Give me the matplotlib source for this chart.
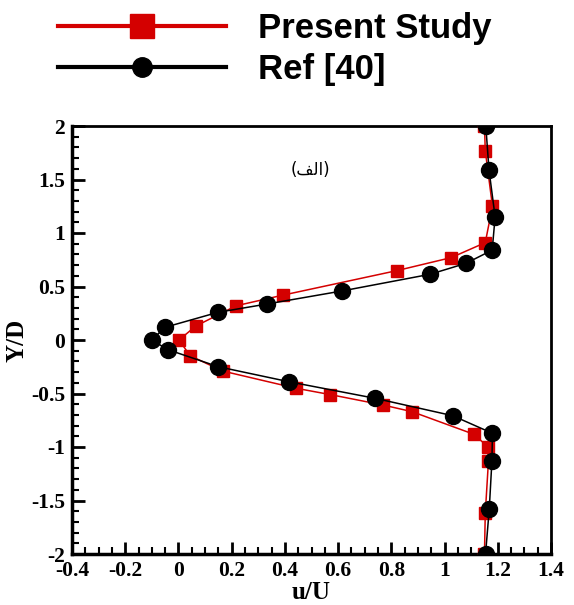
import matplotlib
matplotlib.use("Agg")
import matplotlib.pyplot as plt
from matplotlib.lines import Line2D
from matplotlib.ticker import MultipleLocator

# Present Study (red squares)
present_u = [1.15, 1.153, 1.18, 1.153, 1.025, 0.82, 0.394, 0.217, 0.065, 0.002,
             0.044, 0.166, 0.44, 0.57, 0.768, 0.878, 1.109, 1.163, 1.165, 1.153, 1.15]
present_y = [2.0, 1.77, 1.25, 0.91, 0.77, 0.648, 0.42, 0.32, 0.13, 0.0,
             -0.147, -0.29, -0.45, -0.51, -0.607, -0.67, -0.88, -0.997, -1.13, -1.62, -2.0]

# Ref [40] (black circles)
ref_u = [1.155, 1.167, 1.19, 1.179, 1.08, 0.945, 0.614, 0.332, 0.149, -0.05, -0.10,
         -0.04, 0.15, 0.415, 0.739, 1.03, 1.18, 1.178, 1.168, 1.154]
ref_y = [2.0, 1.59, 1.15, 0.84, 0.716, 0.614, 0.458, 0.336, 0.259, 0.119, 0.0,
         -0.09, -0.25, -0.39, -0.545, -0.707, -0.872, -1.13, -1.58, -2.0]

series_labels = ["Present Study", "Ref [40]"]
x_ticks = [-0.4, -0.2, 0, 0.2, 0.4, 0.6, 0.8, 1, 1.2, 1.4]
y_ticks = [-2, -1.5, -1, -0.5, 0, 0.5, 1, 1.5, 2]
panel_label = "(\uFED2\uFEDF\uFE8D)"  # (الف) in visual order

fig = plt.figure(figsize=(5.74, 6.05), dpi=100)
ax = fig.add_axes([72/574, 51/605, 479/574, 428/605])

red = "#d40000"
ax.plot(present_u, present_y, color=red, lw=1.1, marker="s", ms=8.5,
        mfc=red, mec=red, zorder=3)
ax.plot(ref_u, ref_y, color="black", lw=1.1, marker="o", ms=11.5,
        mfc="black", mec="black", zorder=4)

ax.set_xlim(-0.4, 1.4)
ax.set_ylim(-2, 2)
ax.xaxis.set_minor_locator(MultipleLocator(0.05))
ax.yaxis.set_minor_locator(MultipleLocator(0.1))

def fmt(v):
    s = f"{v:g}"
    return "0" if s == "-0" else s

ax.set_xticks(x_ticks)
ax.set_xticklabels([fmt(v) for v in x_ticks])
ax.set_yticks(y_ticks)
ax.set_yticklabels([fmt(v) for v in y_ticks])

ax.tick_params(which="both", direction="in", top=False, right=False)
ax.tick_params(which="major", length=9, width=2)
ax.tick_params(which="minor", length=5, width=1.5)
ax.tick_params(axis="x", pad=5)
ax.tick_params(axis="y", pad=5)
for lab in ax.get_xticklabels() + ax.get_yticklabels():
    lab.set_fontfamily("Liberation Serif")
    lab.set_fontweight("bold")
    lab.set_fontsize(15.5)

for side in ["left", "bottom"]:
    ax.spines[side].set_linewidth(2.5)
for side in ["top", "right"]:
    ax.spines[side].set_linewidth(2)

ax.set_xlabel("u/U", fontfamily="Liberation Serif", fontweight="bold",
              fontsize=18, labelpad=0)
ax.set_ylabel("Y/D", fontfamily="Liberation Serif", fontweight="bold",
              fontsize=18, labelpad=2)

ax.text(0.495, 1.59, panel_label, fontfamily="DejaVu Sans", fontsize=12,
        ha="center", va="center")

handles = [
    Line2D([], [], color=red, lw=3, marker="s", ms=17, mfc=red, mec=red),
    Line2D([], [], color="black", lw=3, marker="o", ms=14, mfc="black", mec="black"),
]
fig.legend(handles, series_labels, loc="upper left",
           bbox_to_anchor=(51/574, 1 - 5/605),
           frameon=False, prop={"family": "Liberation Sans", "weight": "bold", "size": 25},
           handlelength=4.85, handletextpad=0.9, labelspacing=0.24, borderaxespad=0.0,
           borderpad=0.2)

fig.savefig("out.png", dpi=100)
